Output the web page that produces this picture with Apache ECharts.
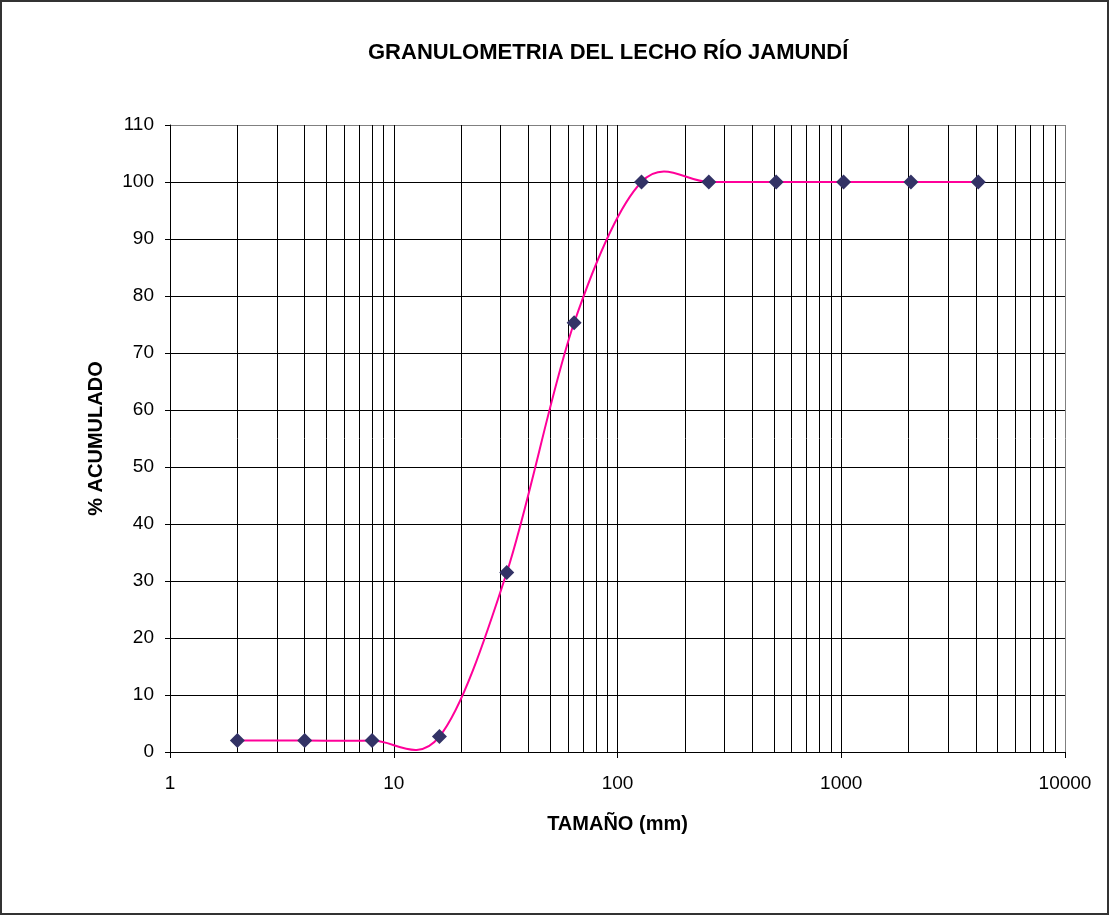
<!DOCTYPE html>
<html>
<head>
<meta charset="utf-8">
<title>Granulometria</title>
<script src="https://cdn.jsdelivr.net/npm/echarts@6/dist/echarts.min.js"></script>
<style>
    html, body { margin: 0; padding: 0; background: #fff; }
    #chart {
        width: 1109px; height: 915px;
        box-sizing: border-box;
        border: 2px solid #333;
    }
</style>
</head>
<body>
<div id="chart"></div>
<script>
// datos de la curva granulométrica
const tamanos = [2, 4, 8, 16, 32, 64, 128, 256, 512, 1024, 2048, 4096];
const acumulado = [2, 2, 2, 2.7, 31.5, 75.3, 100, 100, 100, 100, 100, 100];

// líneas menores del eje logarítmico
const minorTicks = [];
[1, 10, 100, 1000].forEach((base) => {
    for (let k = 2; k <= 9; k++) minorTicks.push(base * k);
});

const fontFamily = '"Liberation Sans", Arial, sans-serif';

// curva suavizada tipo Excel (Catmull-Rom en pixeles)
function curvaSuave(params, api) {
    const pts = tamanos.map((t, i) => api.coord([t, acumulado[i]]));
    const n = pts.length;
    const children = [];
    for (let i = 0; i < n - 1; i++) {
        const p0 = pts[Math.max(i - 1, 0)];
        const p1 = pts[i];
        const p2 = pts[i + 1];
        const p3 = pts[Math.min(i + 2, n - 1)];
        children.push({
            type: 'bezierCurve',
            shape: {
                x1: p1[0], y1: p1[1],
                x2: p2[0], y2: p2[1],
                cpx1: p1[0] + (p2[0] - p0[0]) / 6,
                cpy1: p1[1] + (p2[1] - p0[1]) / 6,
                cpx2: p2[0] - (p3[0] - p1[0]) / 6,
                cpy2: p2[1] - (p3[1] - p1[1]) / 6
            },
            style: { stroke: '#FF0099', lineWidth: 2, fill: 'none' }
        });
    }
    return { type: 'group', children };
}

const chart = echarts.init(document.getElementById('chart'));

chart.setOption({
    animation: false,
    title: {
        text: 'GRANULOMETRIA DEL LECHO RÍO JAMUNDÍ',
        left: 361,
        top: 35,
        textStyle: { fontFamily, fontSize: 22, fontWeight: 'bold', color: '#000' }
    },
    grid: { left: 168, top: 123, width: 895, height: 627, containLabel: false },
    xAxis: {
        type: 'log',
        logBase: 10,
        min: 1,
        max: 10000,
        name: 'TAMAÑO (mm)',
        nameLocation: 'middle',
        nameGap: 62,
        nameTextStyle: { fontFamily, fontSize: 20, fontWeight: 'bold', color: '#000' },
        axisLine: { lineStyle: { color: '#000', width: 1 } },
        axisTick: { inside: false, length: 6, lineStyle: { color: '#000' } },
        axisLabel: {
            fontFamily, fontSize: 19, color: '#000', margin: 22,
            formatter: (v) => String(Math.round(v))
        },
        splitLine: {
            show: true,
            lineStyle: { color: ['#000', '#000', '#000', '#000', '#808080'], width: 1 }
        }
    },
    yAxis: {
        type: 'value',
        min: 0,
        max: 110,
        interval: 10,
        name: '% ACUMULADO',
        nameLocation: 'middle',
        nameGap: 64,
        nameTextStyle: { fontFamily, fontSize: 20, fontWeight: 'bold', color: '#000' },
        axisLine: { show: true, lineStyle: { color: '#000', width: 1 } },
        axisTick: { show: true, length: 5, lineStyle: { color: '#000' } },
        axisLabel: { fontFamily, fontSize: 19, color: '#000', margin: 16 },
        splitLine: {
            show: true,
            lineStyle: {
                color: ['#000', '#000', '#000', '#000', '#000', '#000',
                        '#000', '#000', '#000', '#000', '#000', '#808080'],
                width: 1
            }
        }
    },
    series: [
        {
            type: 'custom',
            coordinateSystem: 'cartesian2d',
            data: [[tamanos[0], acumulado[0]]],
            renderItem: curvaSuave,
            silent: true,
            z: 4
        },
        {
            type: 'scatter',
            data: tamanos.map((t, i) => [t, acumulado[i]]),
            symbol: 'diamond',
            symbolSize: 15,
            itemStyle: { color: '#333366', opacity: 1 },
            z: 5,
            markLine: {
                silent: true,
                symbol: 'none',
                label: { show: false },
                lineStyle: { color: '#000', width: 1, type: 'solid' },
                data: minorTicks.map((v) => ({ xAxis: v })),
                z: 1
            }
        }
    ]
});

window.addEventListener('resize', () => {
    chart.resize();
});
</script>
</body>
</html>
